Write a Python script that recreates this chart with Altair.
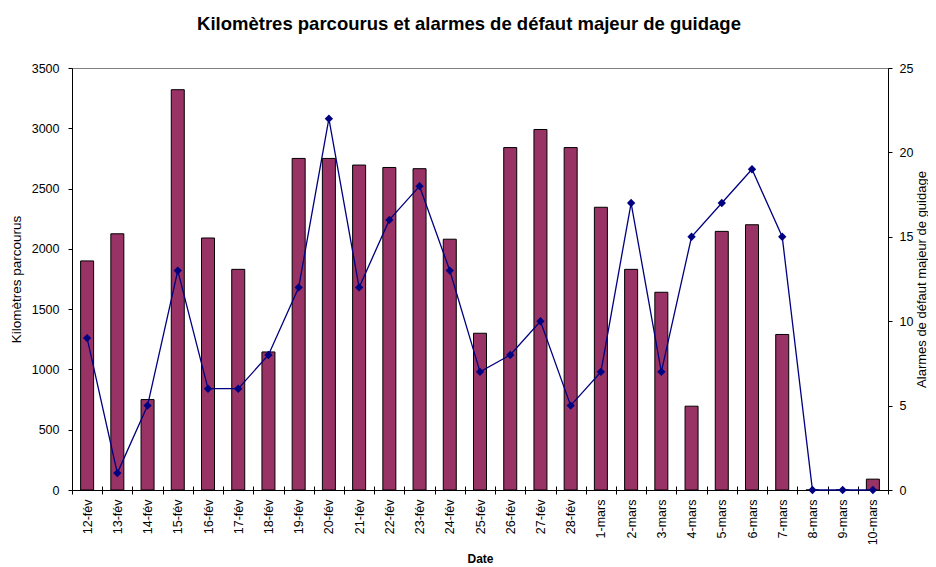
import altair as alt
import pandas as pd

dates = ["12-fév", "13-fév", "14-fév", "15-fév", "16-fév", "17-fév", "18-fév",
         "19-fév", "20-fév", "21-fév", "22-fév", "23-fév", "24-fév", "25-fév",
         "26-fév", "27-fév", "28-fév", "1-mars", "2-mars", "3-mars", "4-mars",
         "5-mars", "6-mars", "7-mars", "8-mars", "9-mars", "10-mars"]
km = [1900, 2125, 750, 3320, 2090, 1830, 1145, 2750, 2750, 2695, 2675, 2665,
      2080, 1300, 2840, 2990, 2840, 2345, 1830, 1640, 695, 2145, 2200, 1290,
      0, 0, 90]
alarmes = [9, 1, 5, 13, 6, 6, 8, 12, 22, 12, 16, 18, 13, 7, 8, 10, 5, 7, 17,
           7, 15, 17, 19, 15, 0, 0, 0]

km_ticks = [0, 500, 1000, 1500, 2000, 2500, 3000, 3500]
alarm_ticks = [0, 5, 10, 15, 20, 25]

df = pd.DataFrame({"Date": dates, "km": km, "alarmes": alarmes})
FONT = "Arial, Liberation Sans, sans-serif"

base = alt.Chart(df)

bars = base.mark_bar(size=13, color="#993366", stroke="black", strokeWidth=1).encode(
    x=alt.X("Date:N", sort=dates, scale=alt.Scale(paddingInner=0, paddingOuter=0),
            axis=alt.Axis(title="Date", labelAngle=270, tickBand="extent", tickSize=4,
                          tickColor="black", domainColor="black", labelPadding=5,
                          labelFont=FONT, labelFontSize=12.5, labelColor="black",
                          titleFont=FONT, titleFontSize=12, titleFontWeight="bold",
                          titleColor="black", titlePadding=9)),
    y=alt.Y("km:Q", scale=alt.Scale(domain=[0, 3500], nice=False),
            axis=alt.Axis(title="Kilomètres parcourus", values=km_ticks, format="d",
                          grid=False, tickSize=4, tickColor="black", domainColor="black",
                          labelPadding=9, labelFont=FONT, labelFontSize=12.5,
                          labelColor="black", titleFont=FONT, titleFontSize=13.5,
                          titleFontWeight="normal", titleColor="black",
                          titlePadding=8)),
)

line = base.mark_line(color="#000080", strokeWidth=1.3,
                      point=alt.OverlayMarkDef(shape="diamond", filled=True, size=70,
                                               color="#000080")).encode(
    x=alt.X("Date:N", sort=dates,
            axis=alt.Axis(orient="bottom", offset=-4, labels=False, domain=False,
                          title=None, tickBand="extent", tickSize=4, tickColor="black")),
    y=alt.Y("alarmes:Q", scale=alt.Scale(domain=[0, 25], nice=False),
            axis=alt.Axis(orient="right", title="Alarmes de défaut majeur de guidage",
                          values=alarm_ticks, grid=False, tickSize=4, tickColor="black",
                          domainColor="black", labelPadding=7, labelFont=FONT,
                          labelFontSize=12.5, labelColor="black", titleFont=FONT,
                          titleFontSize=13, titleFontWeight="normal", titleColor="black",
                          titleAngle=270, titleBaseline="top", titlePadding=3)),
)

chart = alt.layer(bars, line).resolve_scale(y="independent").resolve_axis(
    x="independent", y="independent"
).properties(
    width=816, height=422,
    title=alt.TitleParams("Kilomètres parcourus et alarmes de défaut majeur de guidage",
                          font=FONT, fontSize=18.5, fontWeight="bold", color="black",
                          anchor="middle", offset=29, dx=-11),
    autosize=alt.AutoSizeParams(type="none"),
    padding={"left": 64, "top": 60, "right": 40, "bottom": 76},
    background="white",
).configure_view(stroke="#808080", strokeWidth=1)

chart.save("out.html", embed_options={"renderer": "svg", "actions": False})
